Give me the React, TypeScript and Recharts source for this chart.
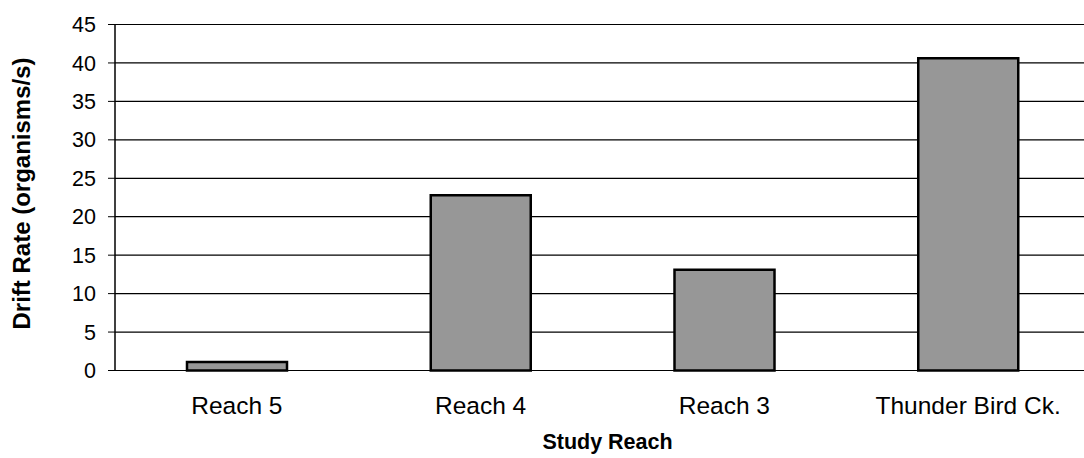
import { BarChart, Bar, XAxis, YAxis, CartesianGrid } from 'recharts';

const categories = ['Reach 5', 'Reach 4', 'Reach 3', 'Thunder Bird Ck.'];
const driftRate = [1.1, 22.8, 13.1, 40.6];
const yTicks = [0, 5, 10, 15, 20, 25, 30, 35, 40, 45];
const boundaryTicks = [0, 1, 2, 3, 4];

const data = categories.map((name, i) => ({ name, rate: driftRate[i] }));

const font = "'Liberation Sans', Arial, sans-serif";

export default function App() {
  return (
    <div style={{ position: 'absolute', left: 0, top: 0, width: 1084, height: 458, overflow: 'hidden', background: '#fff' }}>
      <BarChart width={1090} height={458} data={data} margin={{ top: 24.5, right: 0, left: 0, bottom: 0 }}>
        <CartesianGrid vertical={false} stroke="#000" strokeWidth={1.2} />
        {/* boundary tick marks between categories */}
        <XAxis
          xAxisId="edge"
          type="number"
          domain={[0, 4]}
          ticks={boundaryTicks}
          allowDataOverflow
          tick={false}
          tickSize={7}
          height={0}
          axisLine={{ stroke: '#000', strokeWidth: 1.5 }}
          tickLine={{ stroke: '#000', strokeWidth: 1.5 }}
        />
        <XAxis
          xAxisId="cat"
          dataKey="name"
          interval={0}
          axisLine={false}
          tickLine={false}
          tickSize={0}
          tickMargin={26}
          height={87.5}
          tick={{ fontSize: 24.5, fill: '#000', fontFamily: font }}
          label={{
            value: 'Study Reach',
            position: 'insideBottom',
            offset: 9,
            dx: 5,
            style: { fontSize: 21.5, fontWeight: 'bold', fill: '#000', fontFamily: font },
          }}
        />
        <YAxis
          domain={[0, 45]}
          ticks={yTicks}
          interval={0}
          width={115}
          tickSize={7}
          tickMargin={12}
          axisLine={{ stroke: '#000', strokeWidth: 1.5 }}
          tickLine={{ stroke: '#000', strokeWidth: 1 }}
          tick={{ fontSize: 21.5, fill: '#000', fontFamily: font }}
          label={{
            value: 'Drift Rate (organisms/s)',
            angle: -90,
            position: 'insideLeft',
            offset: 21,
            dy: -4,
            style: { textAnchor: 'middle', fontSize: 24, fontWeight: 'bold', fill: '#000', fontFamily: font },
          }}
        />
        <Bar
          xAxisId="cat"
          dataKey="rate"
          barSize={100}
          fill="#979797"
          stroke="#000"
          strokeWidth={2.5}
          isAnimationActive={false}
        />
      </BarChart>
    </div>
  );
}
